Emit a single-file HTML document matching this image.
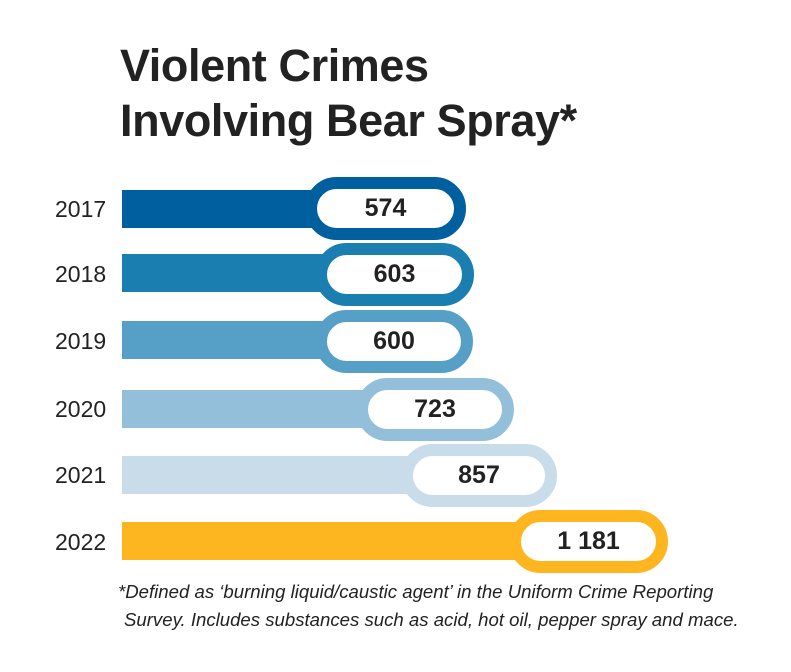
<!DOCTYPE html>
<html><head><meta charset="utf-8"><style>
body{margin:0;background:#fff;width:791px;height:672px;overflow:hidden;font-family:"Liberation Sans",sans-serif;position:relative}
.t{position:absolute;left:120px;font-size:45px;font-weight:bold;color:#222;letter-spacing:-0.4px}
.y{position:absolute;left:55px;font-size:23px;color:#222}
.bar{position:absolute;left:122px;height:38px}
.pill{position:absolute;height:63px;border-radius:32px;box-sizing:border-box;border:12px solid;background:#fff;text-align:center;font-weight:bold;font-size:25px;color:#222;line-height:39px}
.f{position:absolute;font-style:italic;font-size:18.6px;color:#222;white-space:nowrap}
</style></head><body>
<div class="t" style="top:40px">Violent Crimes</div>
<div class="t" style="top:95px">Involving Bear Spray*</div>

<div class="y" style="top:196px">2017</div>
<div class="bar" style="top:190px;width:200px;background:#005f9e"></div>
<div class="pill" style="left:305px;top:177px;width:161px;border-color:#005f9e">574</div>

<div class="y" style="top:261px">2018</div>
<div class="bar" style="top:254px;width:210px;background:#1a7fb0"></div>
<div class="pill" style="left:315px;top:243px;width:159px;border-color:#1a7fb0">603</div>

<div class="y" style="top:328px">2019</div>
<div class="bar" style="top:321px;width:210px;background:#56a0c7"></div>
<div class="pill" style="left:315px;top:310px;width:158px;border-color:#56a0c7">600</div>

<div class="y" style="top:396px">2020</div>
<div class="bar" style="top:390px;width:250px;background:#93bfdb"></div>
<div class="pill" style="left:356px;top:378px;width:158px;border-color:#93bfdb">723</div>

<div class="y" style="top:462px">2021</div>
<div class="bar" style="top:456px;width:295px;background:#c9dcea"></div>
<div class="pill" style="left:401px;top:444px;width:156px;border-color:#c9dcea">857</div>

<div class="y" style="top:529px">2022</div>
<div class="bar" style="top:522px;width:400px;background:#fdb61f"></div>
<div class="pill" style="left:509px;top:510px;width:159px;border-color:#fdb61f">1 181</div>

<div class="f" style="left:118px;top:581px">*Defined as ‘burning liquid/caustic agent’ in the Uniform Crime Reporting</div>
<div class="f" style="left:124px;top:609px">Survey. Includes substances such as acid, hot oil, pepper spray and mace.</div>
</body></html>
